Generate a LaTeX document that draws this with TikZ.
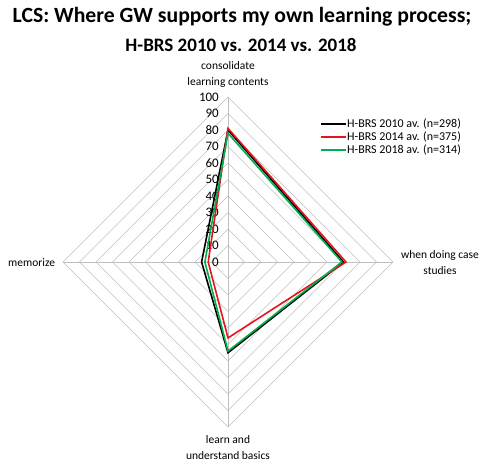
\documentclass[tikz,border=0pt]{standalone}
\usepackage{fontspec}
\setmainfont{Carlito}
\definecolor{gridgray}{RGB}{190,190,190}
\definecolor{seriesred}{RGB}{230,20,30}
\definecolor{seriesgreen}{RGB}{0,176,80}
\begin{document}
\begin{tikzpicture}[x=1pt,y=-1pt,
    grid/.style={draw=gridgray,line width=0.6pt},
    series/.style={line width=1.6pt,line join=miter},
    ticklbl/.style={anchor=east,inner sep=1pt,font=\fontsize{13}{13}\selectfont},
    axislbl/.style={align=center,font=\fontsize{11.5}{16}\selectfont},
    leglbl/.style={anchor=west,inner sep=1pt,font=\fontsize{12}{12}\selectfont}]
    \useasboundingbox (0,0) rectangle (480,464);

    % Title
    \node (title) at (242,17) {\bfseries\fontsize{21.7}{24}\selectfont LCS: Where GW supports my own learning process;};
    \node (subtitle) at (241,45) {\bfseries\fontsize{19}{20}\selectfont H-BRS 2010 vs. 2014 vs. 2018};

    % Grid
    \begin{scope}[shift={(228,262)}]
        \coordinate (center) at (0,0);
        \foreach \r in {10,20,...,100}
            \draw[grid] (0,-1.65*\r) -- (1.65*\r,0) -- (0,1.65*\r) -- (-1.65*\r,0) -- cycle;
        \coordinate (axtop) at (0,-165);
        \coordinate (axright) at (165,0);
        \coordinate (axbottom) at (0,165);
        \coordinate (axleft) at (-165,0);
        \draw[grid] (center) -- (axtop);
        \draw[grid] (center) -- (axright);
        \draw[grid] (center) -- (axbottom);
        \draw[grid] (center) -- (axleft);
        \foreach \v in {0,10,...,100}
            \node[ticklbl] (tick\v) at (-8,-1.65*\v) {\v};

        % Data points
        \foreach \s/\t/\c/\b/\m in {y10/80/70/55/16, y14/81/71.5/46/12, y18/78/69/54/14} {
            \coordinate (\s-top) at (0,-1.65*\t);
            \coordinate (\s-right) at (1.65*\c,0);
            \coordinate (\s-bottom) at (0,1.65*\b);
            \coordinate (\s-left) at (-1.65*\m,0);
        }

        % Series
        \draw[series,black] (y10-top) -- (y10-right) -- (y10-bottom) -- (y10-left) -- cycle;
        \draw[series,seriesred] (y14-top) -- (y14-right) -- (y14-bottom) -- (y14-left) -- cycle;
        \draw[series,seriesgreen] (y18-top) -- (y18-right) -- (y18-bottom) -- (y18-left) -- cycle;
    \end{scope}

    % Axis labels
    \node[axislbl] (consolidate) at (228,74) {consolidate\\learning contents};
    \node[axislbl,anchor=west,inner sep=0pt] (memorize) at (8,263) {memorize};
    \node[axislbl] (casestudies) at (440,263) {when doing case\\studies};
    \node[axislbl] (basics) at (228,448) {learn and\\understand basics};

    % Legend
    \node[leglbl] (leg10) at (346,124) {H-BRS 2010 av. (n=298)};
    \node[leglbl] (leg14) at (346,137) {H-BRS 2014 av. (n=375)};
    \node[leglbl] (leg18) at (346,150) {H-BRS 2018 av. (n=314)};
    \draw[series,black] ([xshift=-25pt]leg10.west) -- (leg10.west);
    \draw[series,seriesred] ([xshift=-25pt]leg14.west) -- (leg14.west);
    \draw[series,seriesgreen] ([xshift=-25pt]leg18.west) -- (leg18.west);
\end{tikzpicture}
\end{document}
